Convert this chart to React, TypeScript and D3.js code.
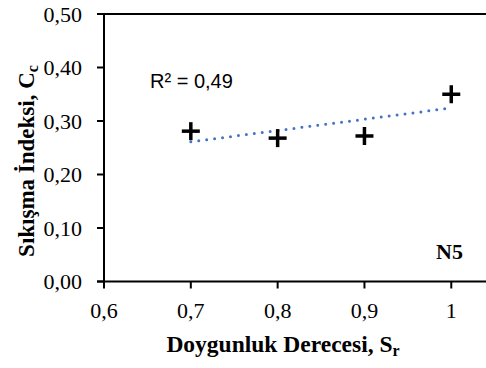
import React from "react";
import * as d3 from "d3";

const sr = [0.7, 0.8, 0.9, 1.0];
const cc = [0.281, 0.268, 0.272, 0.35];
const xTicks = [0.6, 0.7, 0.8, 0.9, 1.0];
const yTicks = [0, 0.1, 0.2, 0.3, 0.4, 0.5];
const r2Label = "R² = 0,49";
const panelLabel = "N5";

const W = 486, H = 368;
const SERIF = "Liberation Serif";
const SANS = "Liberation Sans";

export default function App() {
  const x = d3.scaleLinear().domain([0.6, 1.04]).range([104, 486]);
  const y = d3.scaleLinear().domain([0, 0.5]).range([281.5, 14]);
  const fmtY = (v: number) => v.toFixed(2).replace(".", ",");
  const fmtX = (v: number) => (v === 1 ? "1" : v.toFixed(1).replace(".", ","));

  const xm = d3.mean(sr)!, ym = d3.mean(cc)!;
  const slope = d3.sum(sr.map((v, i) => (v - xm) * (cc[i] - ym))) / d3.sum(sr.map(v => (v - xm) ** 2));
  const icpt = ym - slope * xm;
  const x0 = d3.min(sr)!, x1 = d3.max(sr)!;
  const line = d3.line<number>().x(v => x(v)).y(v => y(icpt + slope * v));

  return (
    <svg width={W} height={H} style={{ position: "absolute", left: 0, top: 0, background: "#fff" }}>
      <line x1={x(0.6) - 7} x2={W} y1={y(0.5)} y2={y(0.5)} stroke="#000" strokeWidth={2} />
      <line x1={x(0.6)} x2={x(0.6)} y1={y(0.5)} y2={y(0)} stroke="#000" strokeWidth={2} />
      {yTicks.map(t => (
        <g key={"y" + t}>
          <line x1={x(0.6) - 7} x2={x(0.6)} y1={y(t)} y2={y(t)} stroke="#000" strokeWidth={2} />
          <text x={82} y={y(t) + 7.5} textAnchor="end" fontFamily={SERIF} fontSize={22} fill="#000">{fmtY(t)}</text>
        </g>
      ))}
      <line x1={x(0.6) - 7} x2={W} y1={y(0)} y2={y(0)} stroke="#000" strokeWidth={2} />
      {xTicks.map(t => (
        <g key={"x" + t}>
          <line x1={x(t)} x2={x(t)} y1={y(0)} y2={y(0) + 7} stroke="#000" strokeWidth={2} />
          <text x={x(t)} y={318} textAnchor="middle" fontFamily={SERIF} fontSize={22} fill="#000">{fmtX(t)}</text>
        </g>
      ))}
      <path d={line([x0, x1])!} fill="none" stroke="#4472C4" strokeWidth={3} strokeDasharray="0 8" strokeLinecap="round" />
      {sr.map((v, i) => (
        <g key={"p" + i} transform={`translate(${x(v)},${y(cc[i])})`}>
          <line x1={-9} x2={9} y1={0} y2={0} stroke="#000" strokeWidth={3.5} />
          <line x1={0} x2={0} y1={-9} y2={9} stroke="#000" strokeWidth={3.5} />
        </g>
      ))}
      <text x={150} y={88} fontFamily={SANS} fontSize={20} fill="#000">{r2Label}</text>
      <text x={436} y={259} fontFamily={SERIF} fontWeight="bold" fontSize={22} fill="#000">{panelLabel}</text>
      <text x={283} y={352} textAnchor="middle" fontFamily={SERIF} fontWeight="bold" fontSize={23.5} fill="#000">
        Doygunluk Derecesi, S<tspan fontSize={16} dy={4}>r</tspan>
      </text>
      <text transform={`translate(33.5,161) rotate(-90)`} textAnchor="middle" fontFamily={SERIF} fontWeight="bold" fontSize={23} fill="#000">
        Sıkışma İndeksi, C<tspan fontSize={16} dy={4}>c</tspan>
      </text>
    </svg>
  );
}
